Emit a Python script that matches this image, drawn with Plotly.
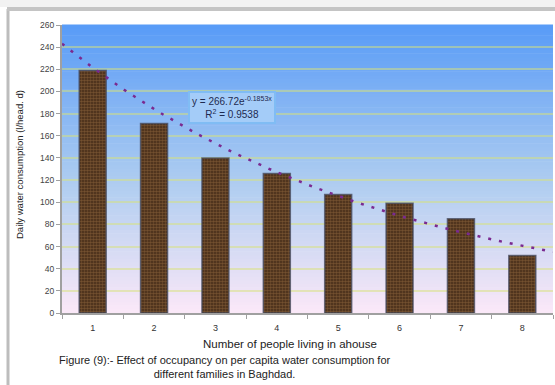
import numpy as np
import plotly.graph_objects as go

# Occupancy vs. per-capita daily water use
people = [1, 2, 3, 4, 5, 6, 7, 8]
consumption = [219, 171, 140, 126, 107, 99, 85, 52]
y_ticks = list(range(0, 261, 20))

# Exponential trendline parameters
trend_a = 266.72
trend_b = -0.1853
trend_r2 = 0.9538

W, H = 555, 385
ML, MR, MT, MB = 62, 2, 25, 72

fig = go.Figure()

# Textured wooden-looking bars
fig.add_trace(go.Bar(
    x=people, y=consumption, width=0.44,
    marker=dict(
        color="#4A2E1A",
        line=dict(color="rgba(70,75,95,0.75)", width=1.5),
        pattern=dict(shape=".", fgcolor="#73502F", bgcolor="#432A17",
                     size=3, solidity=0.55, fillmode="replace"),
    ),
    hoverinfo="skip", showlegend=False,
))

# Dotted exponential trendline
tx = np.linspace(0.5, 8.5, 120)
fig.add_trace(go.Scatter(
    x=tx, y=trend_a * np.exp(trend_b * tx), mode="lines",
    line=dict(color="#7A2A90", width=2.5, dash="3px,8px"),
    hoverinfo="skip", showlegend=False,
))

# Vertical gradient for the plot background (blue at top to pale pink below)
stops = [(0.0, (251, 232, 248)), (0.45, (175, 205, 240)), (1.0, (88, 155, 247))]

def grad_color(t):
    for (t0, c0), (t1, c1) in zip(stops[:-1], stops[1:]):
        if t <= t1:
            f = (t - t0) / (t1 - t0)
            return "rgb(%d,%d,%d)" % tuple(round(a + (b - a) * f) for a, b in zip(c0, c1))
    return "rgb(%d,%d,%d)" % stops[-1][1]

shapes = []
n_bands = 80
for i in range(n_bands):
    shapes.append(dict(type="rect", xref="paper", yref="paper",
                       x0=0, x1=1, y0=i / n_bands, y1=(i + 1) / n_bands + 0.002,
                       fillcolor=grad_color((i + 0.5) / n_bands),
                       line=dict(width=0), layer="below"))

# Outer chart frame (top and left edges)
pw, ph = W - ML - MR, H - MT - MB
def px_x(p):
    return (p - ML) / pw
def px_y(p):
    return (H - MB - p) / ph

shapes.append(dict(type="rect", xref="paper", yref="paper",
                   x0=px_x(-5), x1=px_x(560), y0=px_y(-5), y1=px_y(7),
                   fillcolor="#F2F2F2", line=dict(width=0), layer="below"))
shapes.append(dict(type="line", xref="paper", yref="paper",
                   x0=px_x(8), x1=px_x(8), y0=px_y(9), y1=px_y(390),
                   line=dict(color="#BDBDBD", width=3)))
shapes.append(dict(type="line", xref="paper", yref="paper",
                   x0=px_x(7), x1=px_x(560), y0=px_y(9), y1=px_y(9),
                   line=dict(color="#C4C4C4", width=4)))

annotations = [
    dict(text="y = 266.72e<sup>%.4fx</sup><br>R<sup>2</sup> = %.4f" % (trend_b, trend_r2),
         xref="paper", yref="paper", x=px_x(232), y=px_y(107),
         xanchor="center", yanchor="middle",
         showarrow=False, font=dict(size=10, color="#1E2A50", family="Liberation Sans"),
         bgcolor="#A4CCF8", bordercolor="#80BCF4", borderwidth=2, borderpad=2,
         align="center"),
    dict(text="Number of people living in ahouse", xref="paper", yref="paper",
         x=px_x(290), y=px_y(344), xanchor="center", yanchor="middle", showarrow=False,
         font=dict(size=11.5, color="#222222", family="Liberation Sans")),
    dict(text="Daily water consumption (l/head. d)", xref="paper", yref="paper",
         x=px_x(19), y=px_y(165), xanchor="center", yanchor="middle",
         showarrow=False, textangle=-90,
         font=dict(size=9.5, color="#222222", family="Liberation Sans")),
    dict(text="Figure (9):- Effect of occupancy on per capita water consumption for<br>"
              "different families in Baghdad.",
         xref="paper", yref="paper", x=px_x(225), y=px_y(367),
         xanchor="center", yanchor="middle", showarrow=False,
         font=dict(size=11, color="#222222", family="Liberation Sans"), align="center"),
]

fig.update_layout(
    width=W, height=H,
    margin=dict(l=ML, r=MR, t=MT, b=MB),
    paper_bgcolor="white", plot_bgcolor="rgba(0,0,0,0)",
    shapes=shapes, annotations=annotations,
    font=dict(family="Liberation Sans", size=8, color="#333333"),
    xaxis=dict(range=[0.5, 8.5], tickvals=people, ticktext=[str(p) for p in people],
               ticks="", showgrid=False, zeroline=False,
               showline=True, linecolor="#A0A0A0", linewidth=2,
               tickfont=dict(size=9, color="#333333"), ticklabelstandoff=5,
               minor=dict(tick0=0.5, dtick=1, ticks="outside", ticklen=4,
                          tickcolor="#A0A0A0", tickwidth=1, showgrid=False)),
    yaxis=dict(range=[0, 260], tickvals=y_ticks, ticks="outside", ticklen=4,
               tickcolor="#A0A0A0", showline=True, linecolor="#A0A0A0", linewidth=2,
               gridcolor="rgba(215,225,120,0.5)", gridwidth=2, zeroline=False,
               tickfont=dict(size=8.5, color="#444444")),
)

fig.write_html("out.html")
